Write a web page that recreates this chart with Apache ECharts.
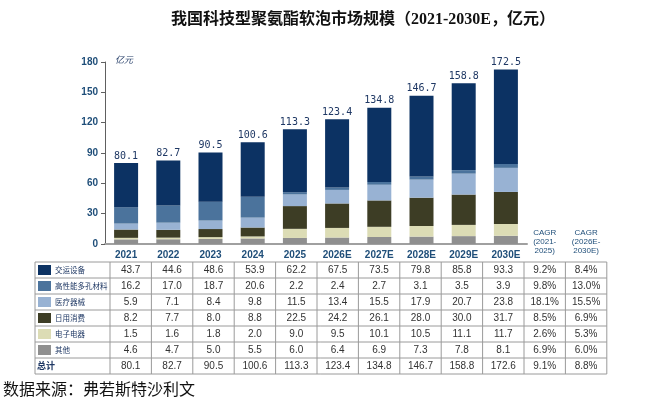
<!DOCTYPE html>
<html>
<head>
<meta charset="UTF-8">
<title>我国科技型聚氨酯软泡市场规模</title>
<script src="https://cdn.jsdelivr.net/npm/echarts@6/dist/echarts.min.js"></script>
<style>
  html, body { margin: 0; padding: 0; background: #fff; }
</style>
</head>
<body>
<div id="main" style="width:650px;height:414px"></div>
<script>
// 年份
var years = ['2021', '2022', '2023', '2024', '2025', '2026E', '2027E', '2028E', '2029E', '2030E'];
// 各细分领域（亿元）
var transport = [43.7, 44.6, 48.6, 53.9, 62.2, 67.5, 73.5, 79.8, 85.8, 93.3];
var porous = [16.2, 17.0, 18.7, 20.6, 2.2, 2.4, 2.7, 3.1, 3.5, 3.9];
var medical = [5.9, 7.1, 8.4, 9.8, 11.5, 13.4, 15.5, 17.9, 20.7, 23.8];
var daily = [8.2, 7.7, 8.0, 8.8, 22.5, 24.2, 26.1, 28.0, 30.0, 31.7];
var electronic = [1.5, 1.6, 1.8, 2.0, 9.0, 9.5, 10.1, 10.5, 11.1, 11.7];
var others = [4.6, 4.7, 5.0, 5.5, 6.0, 6.4, 6.9, 7.3, 7.8, 8.1];
var totals = [80.1, 82.7, 90.5, 100.6, 113.3, 123.4, 134.8, 146.7, 158.8, 172.6];
// 柱顶标签（图中 2030E 标为 172.5）
var barTopLabels = ['80.1', '82.7', '90.5', '100.6', '113.3', '123.4', '134.8', '146.7', '158.8', '172.5'];
var cagr1 = ['9.2%', '9.8%', '18.1%', '8.5%', '2.6%', '6.9%', '9.1%'];
var cagr2 = ['8.4%', '13.0%', '15.5%', '6.9%', '5.3%', '6.0%', '8.8%'];
var cagrHeads = ['CAGR\n(2021-\n2025)', 'CAGR\n(2026E-\n2030E)'];
var yTicks = [0, 30, 60, 90, 120, 150, 180];

var rows = [
  { name: '交运设备', data: transport, color: '#0c3263' },
  { name: '高性能多孔材料', data: porous, color: '#4b739c' },
  { name: '医疗器械', data: medical, color: '#98b2d3' },
  { name: '日用消费', data: daily, color: '#3d3d25' },
  { name: '电子电器', data: electronic, color: '#dcdcb5' },
  { name: '其他', data: others, color: '#8f8f8f' }
];

var myChart = echarts.init(document.getElementById('main'));

// 表格布局
var tLeft = 35, tLabelW = 75, tColW = 41.4, tTop = 262, tRowH = 16;
var nCols = years.length + 2;
var tRight = tLeft + tLabelW + tColW * nCols;
var nRows = rows.length + 1;
var lineColor = '#9a9a9a';
var numFont = '"Liberation Sans", sans-serif';

var graphics = [];
// 横线
for (var r = 0; r <= nRows; r++) {
  graphics.push({
    type: 'line',
    shape: { x1: tLeft, y1: tTop + r * tRowH, x2: tRight, y2: tTop + r * tRowH },
    style: { stroke: lineColor, lineWidth: 1 }
  });
}
// 竖线
var vx = [tLeft, tLeft + tLabelW];
for (var c = 1; c <= nCols; c++) vx.push(tLeft + tLabelW + c * tColW);
vx.forEach(function (x) {
  graphics.push({
    type: 'line',
    shape: { x1: x, y1: tTop, x2: x, y2: tTop + nRows * tRowH },
    style: { stroke: lineColor, lineWidth: 1 }
  });
});

function cellText(r, c, txt) {
  graphics.push({
    type: 'text',
    x: tLeft + tLabelW + (c + 0.5) * tColW,
    y: tTop + (r + 0.5) * tRowH + 0.5,
    style: {
      text: txt, align: 'center', verticalAlign: 'middle',
      fill: '#333', font: '10px ' + numFont
    }
  });
}

rows.forEach(function (row, r) {
  var cy = tTop + (r + 0.5) * tRowH;
  graphics.push({
    type: 'rect',
    shape: { x: tLeft + 3, y: cy - 5, width: 13, height: 10 },
    style: { fill: row.color }
  });
  graphics.push({
    type: 'text',
    x: tLeft + 20, y: cy,
    style: {
      text: row.name, align: 'left', verticalAlign: 'middle',
      fill: '#1f3864', font: '7.5px "Noto Sans CJK SC", sans-serif'
    }
  });
  row.data.forEach(function (v, c) { cellText(r, c, v.toFixed(1)); });
  cellText(r, years.length, cagr1[r]);
  cellText(r, years.length + 1, cagr2[r]);
});
var lastR = rows.length;
graphics.push({
  type: 'text',
  x: tLeft + 2, y: tTop + (lastR + 0.5) * tRowH,
  style: {
    text: '总计', align: 'left', verticalAlign: 'middle',
    fill: '#1f3864', font: 'bold 9px "Noto Sans CJK SC", sans-serif'
  }
});
totals.forEach(function (v, c) { cellText(lastR, c, v.toFixed(1)); });
cellText(lastR, years.length, cagr1[lastR]);
cellText(lastR, years.length + 1, cagr2[lastR]);

cagrHeads.forEach(function (h, i) {
  graphics.push({
    type: 'text',
    x: tLeft + tLabelW + (years.length + i + 0.5) * tColW,
    y: 242,
    style: {
      text: h, align: 'center', verticalAlign: 'middle', lineHeight: 9,
      fill: '#1f4e79', font: '8px ' + numFont
    }
  });
});

// 数据来源
graphics.push({
  type: 'text',
  x: 3, y: 389,
  style: {
    text: '数据来源：弗若斯特沙利文', align: 'left', verticalAlign: 'middle',
    fill: '#111', font: '16px "Noto Sans CJK SC", sans-serif'
  }
});

var seriesOrder = rows.slice().reverse();

var option = {
  animation: false,
  title: {
    text: '我国科技型聚氨酯软泡市场规模（2021-2030E，亿元）',
    left: 166, top: 7,
    textStyle: {
      fontSize: 16, fontWeight: 'bold', color: '#111',
      fontFamily: '"Liberation Serif", "Noto Sans CJK SC", serif'
    }
  },
  grid: { left: 105, right: 123, top: 62, bottom: 170 },
  xAxis: {
    type: 'category',
    data: years,
    axisTick: { show: false },
    axisLine: { lineStyle: { color: '#a0a0a0', width: 2 } },
    axisLabel: {
      margin: 6, color: '#1f4e79', fontSize: 10, fontWeight: 'bold',
      fontFamily: numFont
    }
  },
  yAxis: {
    type: 'value',
    min: yTicks[0], max: yTicks[yTicks.length - 1], interval: yTicks[1] - yTicks[0],
    name: '亿元',
    nameLocation: 'end',
    nameGap: -2,
    nameTextStyle: {
      align: 'left', padding: [0, 0, 0, 10], color: '#1f3864',
      fontSize: 9, fontStyle: 'italic', fontFamily: '"Noto Sans CJK SC", sans-serif'
    },
    splitLine: { show: false },
    axisLine: { show: true, lineStyle: { color: '#606060', width: 1 } },
    axisTick: { show: true, length: 4, lineStyle: { color: '#606060' } },
    axisLabel: {
      margin: 7, color: '#1f4e79', fontSize: 10, fontWeight: 'bold',
      fontFamily: numFont
    }
  },
  series: seriesOrder.map(function (row, i) {
    var s = {
      name: row.name,
      type: 'bar',
      stack: 'total',
      barWidth: 24,
      data: row.data,
      itemStyle: { color: row.color }
    };
    if (i === seriesOrder.length - 1) {
      s.label = {
        show: true, position: 'top', distance: 2,
        color: '#1f3864', fontSize: 10,
        fontFamily: '"DejaVu Sans Mono", monospace',
        formatter: function (p) { return barTopLabels[p.dataIndex]; }
      };
    }
    return s;
  }),
  graphic: graphics
};

myChart.setOption(option);
</script>
</body>
</html>
